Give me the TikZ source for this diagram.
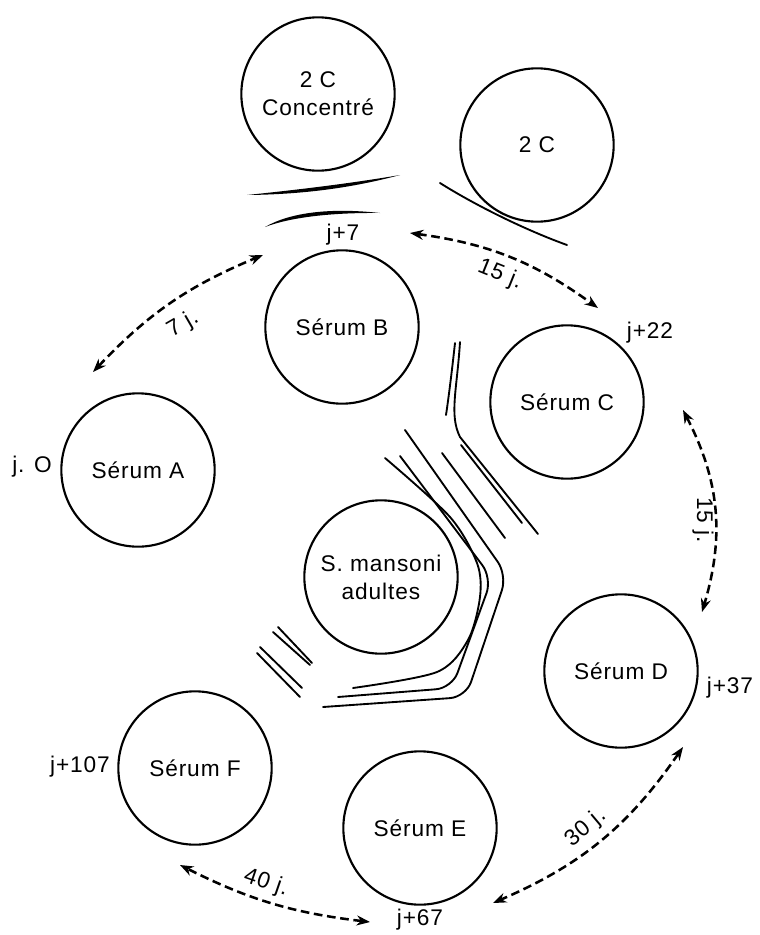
\documentclass[tikz,border=0pt]{standalone}
\usepackage{fontspec}
\setmainfont{Liberation Sans}[LetterSpace=4]
\usetikzlibrary{arrows.meta}
\begin{document}
\begin{tikzpicture}[x=0.75pt,y=-0.75pt,
  well/.style={circle,draw,line width=1.6pt,minimum size=115pt,inner sep=0pt,
    align=center,font=\fontsize{17}{21}\selectfont},
  lab/.style={inner sep=0pt,font=\fontsize{17}{21}\selectfont},
  interval/.style={line width=1.9pt,dash pattern=on 6.5pt off 3.5pt,
    {Stealth[length=10pt,width=7.5pt]}-{Stealth[length=10pt,width=7.5pt]}},
  band/.style={line width=1.4pt,line cap=round,line join=round}]
\useasboundingbox (0,0) rectangle (760,935);
\fill[white] (0,0) rectangle (760,935);

% wells
\node[well] (cc) at (318,94) {2 C\\Concentré};
\node[well] (c2) at (537,145) {2 C};
\node[well] (sb) at (342,327) {Sérum B};
\node[well] (sc) at (567,402) {Sérum C};
\node[well] (sa) at (138,470) {Sérum A};
\node[well] (sm) at (381,577) {S. mansoni\\adultes};
\node[well] (sd) at (621,671) {Sérum D};
\node[well] (sf) at (195,768) {Sérum F};
\node[well] (se) at (420,828) {Sérum E};

% sampling days
\node[lab] (d0) at (32,467) {j. O};
\node[lab] (d7) at (343,235) {j+7};
\node[lab] (d22) at (650,333) {j+22};
\node[lab] (d37) at (730,688) {j+37};
\node[lab] (d67) at (420,920) {j+67};
\node[lab] (d107) at (80,767) {j+107};

% intervals between bleedings
\coordinate (a1) at (93,372);  \coordinate (b1) at (263,255);
\coordinate (b2) at (410,233); \coordinate (c1) at (598,308);
\coordinate (c3) at (683,410); \coordinate (d1) at (702,612);
\coordinate (d2) at (683,747); \coordinate (e1) at (493,903);
\coordinate (e2) at (370,922); \coordinate (f1) at (180,865);
\draw[interval] (a1) to[bend left=12] (b1);
\draw[interval] (b2) to[bend left=14] (c1);
\draw[interval] (c3) to[bend left=22] (d1);
\draw[interval] (d2) to[bend left=16] (e1);
\draw[interval] (e2) to[bend left=10] (f1);
\node[lab,rotate=30] (g1) at (183,324) {7 j.};
\node[lab,rotate=-22] (g2) at (500,275) {15 j.};
\node[lab,rotate=-90] (g3) at (703,520) {15 j.};
\node[lab,rotate=40] (g4) at (586,828) {30 j.};
\node[lab,rotate=-19] (g5) at (266,883) {40 j.};

% precipitation lines under the top wells
\fill (247,195) .. controls (300,189.5) and (350,183.5) .. (400,175)
  .. controls (350,188.5) and (300,194.5) .. (247,195) -- cycle;
\fill (265,227) .. controls (290,212.5) and (330,207.5) .. (380,213)
  .. controls (330,212.5) and (290,217.5) .. (265,227) -- cycle;
\draw[band] (440,183) .. controls (470,202) and (520,228) .. (567,245);

% precipitation lines near Sérum C
\draw[band] (460,342) .. controls (457,390) and (449,415) .. (460,437) -- (538,534);
\draw[band] (455,343) .. controls (452,370) and (449,395) .. (446,415);
\draw[band] (461,445) -- (522,523);

% precipitation lines around the antigen well
\draw[band,rounded corners=12pt] (405,430) -- (507,575) -- (466,697) -- (323,707);
\draw[band,rounded corners=12pt] (400,456) -- (492,578) -- (452,688) -- (338,697);
\draw[band] plot[smooth] coordinates {(385,458) (450,517) (477,563) (480,597)
  (468,640) (437,672) (353,688)};
\draw[band] (442,453) -- (505,538);
\draw[band] (273,632) -- (310,665);
\draw[band] (278,627) -- (312,663);
\draw[band] (257,653) -- (300,697);
\draw[band] (260,647) -- (302,688);
\end{tikzpicture}
\end{document}
